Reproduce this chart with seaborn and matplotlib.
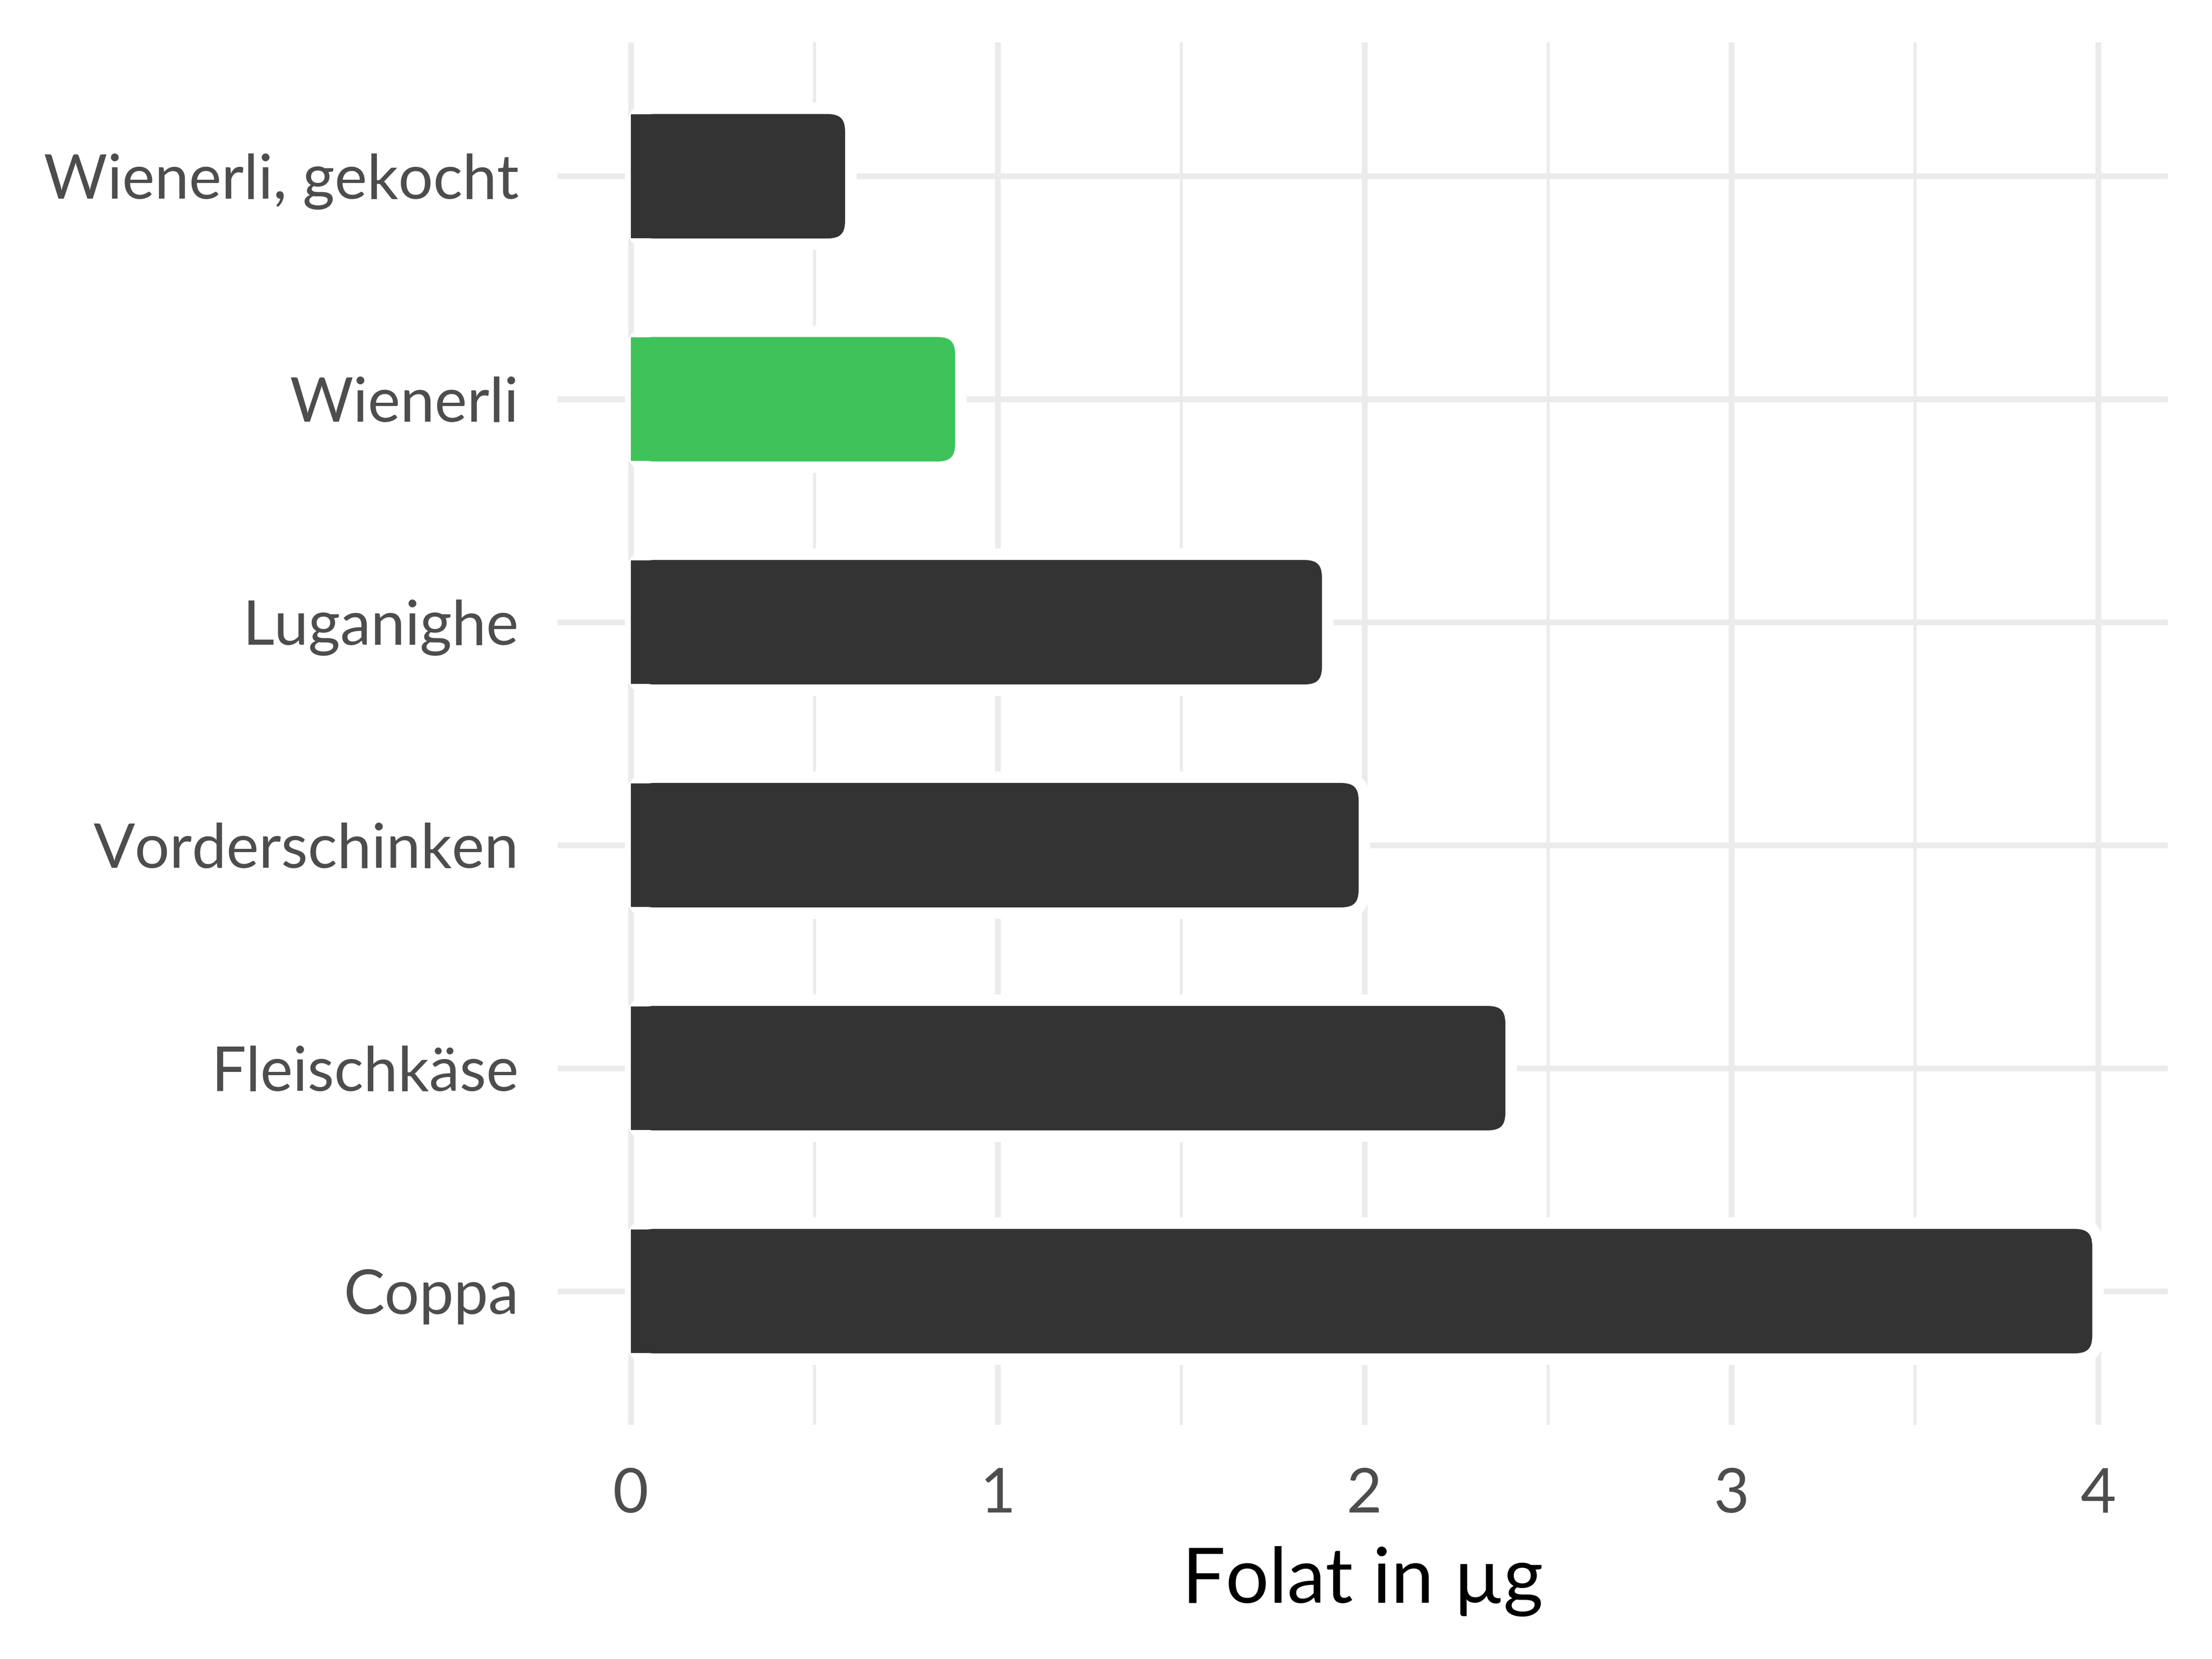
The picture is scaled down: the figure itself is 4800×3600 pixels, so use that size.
import matplotlib
matplotlib.use("Agg")
import matplotlib.pyplot as plt
import seaborn as sns
from matplotlib.patches import FancyBboxPatch, Rectangle

# data
categories = ["Wienerli, gekocht", "Wienerli", "Luganighe", "Vorderschinken", "Fleischkäse", "Coppa"]
folat = [0.6, 0.9, 1.9, 2.0, 2.4, 4.0]
bar_colors = ["#333333", "#3EC35A", "#333333", "#333333", "#333333", "#333333"]
x_ticks = [0, 1, 2, 3, 4]
x_minor = [0.5, 1.5, 2.5, 3.5]
x_label = "Folat in µg"

sns.set_theme(style="white")
plt.rcParams["font.family"] = ["Lato", "DejaVu Sans"]

fig = plt.figure(figsize=(16, 12), dpi=300)
ax = fig.add_axes([0.252, 0.1411, 0.728, 0.8333])

grid_col = "#EBEBEB"
stroke = 6.0  # pt

sns.barplot(x=folat, y=categories, hue=categories, palette=bar_colors,
            orient="h", width=0.61, legend=False, ax=ax, saturation=1,
            edgecolor="white", linewidth=stroke)

ax.set_xlim(-0.2, 4.19)
ax.set_ylim(5.6, -0.6)
ax.set_axisbelow(True)
ax.set_xticks(x_ticks)
ax.set_xticks(x_minor, minor=True)
ax.grid(which="major", axis="both", color=grid_col, lw=3.0)
ax.grid(which="minor", axis="x", color=grid_col, lw=1.6)
for s in ax.spines.values():
    s.set_visible(False)
ax.tick_params(which="both", length=0)
ax.tick_params(axis="y", pad=20, labelsize=32, labelcolor="#4D4D4D")
ax.tick_params(axis="x", pad=22, labelsize=32, labelcolor="#4D4D4D")
ax.set_ylabel("")
ax.set_xlabel(x_label, fontsize=40, color="black", labelpad=12)

# swap plain bars for ones with rounded ends
bb = ax.get_window_extent()
px_x = bb.width / (4.19 + 0.2)
px_y = bb.height / 6.2
rad_px = 50
half_px = stroke / 72 * fig.dpi / 2
for p in list(ax.patches):
    x0, y0, w, h = p.get_x(), p.get_y(), p.get_width(), p.get_height()
    fc = p.get_facecolor()
    p.set_visible(False)
    rb = FancyBboxPatch((x0, y0), w, h,
                        boxstyle=f"round,pad=0,rounding_size={rad_px / px_x}",
                        mutation_aspect=px_x / px_y,
                        facecolor=fc, edgecolor="white", linewidth=stroke, zorder=2)
    ax.add_patch(rb)
    inset = (half_px + 1) / px_y
    ax.add_patch(Rectangle((x0, y0 + inset), w / 2, h - 2 * inset,
                           facecolor=fc, edgecolor="none", zorder=3))

fig.savefig("out.png", dpi=300)
